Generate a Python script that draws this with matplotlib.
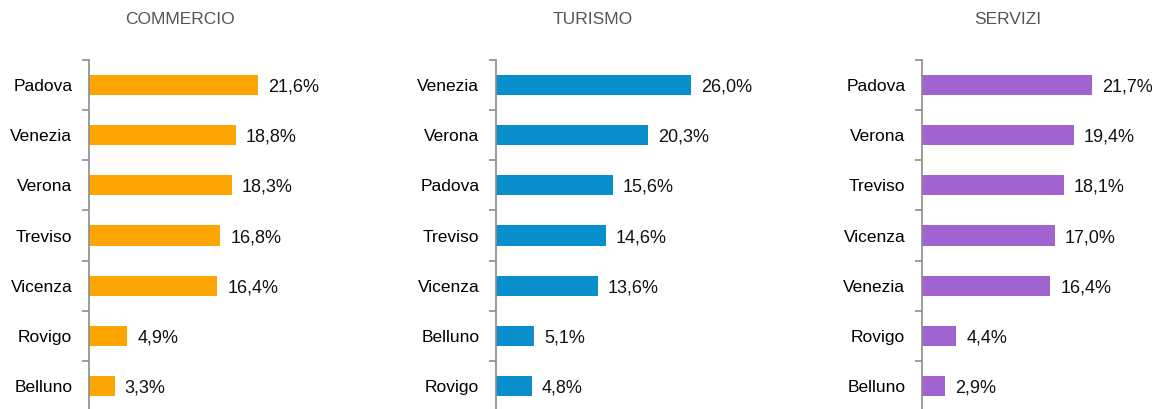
"""Quota regionale per provincia: commercio, turismo, servizi."""

import matplotlib.pyplot as plt
import numpy as np

plt.rcParams["font.family"] = ["Liberation Sans", "DejaVu Sans"]

COMMERCIO_PROV = ["Padova", "Venezia", "Verona", "Treviso", "Vicenza", "Rovigo", "Belluno"]
COMMERCIO_VAL = [21.6, 18.8, 18.3, 16.8, 16.4, 4.9, 3.3]

TURISMO_PROV = ["Venezia", "Verona", "Padova", "Treviso", "Vicenza", "Belluno", "Rovigo"]
TURISMO_VAL = [26.0, 20.3, 15.6, 14.6, 13.6, 5.1, 4.8]

SERVIZI_PROV = ["Padova", "Verona", "Treviso", "Vicenza", "Venezia", "Rovigo", "Belluno"]
SERVIZI_VAL = [21.7, 19.4, 18.1, 17.0, 16.4, 4.4, 2.9]

W, H = 1156, 409
AXIS_COLOR = "#8c8c8c"


def draw_panel(fig, left_px, ppu, title, title_x, provinces, values, color):
    width_px = 260
    ax = fig.add_axes([left_px / W, (H - 411) / H, width_px / W, 351 / H])
    y = np.arange(len(provinces))
    ax.barh(y, values, height=0.4, color=color)
    ax.set_ylim(len(provinces) - 0.5, -0.5)
    ax.set_xlim(0, width_px / ppu)

    for side in ["top", "right", "bottom"]:
        ax.spines[side].set_visible(False)
    ax.spines["left"].set_color(AXIS_COLOR)
    ax.spines["left"].set_linewidth(1.2)
    ax.set_xticks([])

    ax.set_yticks(y)
    ax.set_yticklabels(provinces, fontsize=12.5, va="center_baseline")
    ax.tick_params(axis="y", which="major", length=0, pad=12)
    ax.set_yticks(np.arange(len(provinces) + 1) - 0.5, minor=True)
    ax.tick_params(axis="y", which="minor", length=5, width=1.2, color=AXIS_COLOR)

    for yi, v in zip(y, values):
        ax.text(v + 10 / ppu, yi, f"{v:.1f}%".replace(".", ","),
                va="center_baseline", ha="left", fontsize=13, color="#111111")

    fig.text(title_x / W, (H - 20) / H, title, ha="center", va="center",
             fontsize=12.5, color="#555555")


def main():
    fig = plt.figure(figsize=(W / 100, H / 100), dpi=100)
    draw_panel(fig, 89, 7.82, "COMMERCIO", 180, COMMERCIO_PROV, COMMERCIO_VAL, "#FDA503")
    draw_panel(fig, 496, 7.5, "TURISMO", 593, TURISMO_PROV, TURISMO_VAL, "#0A8FCD")
    draw_panel(fig, 922, 7.83, "SERVIZI", 1008, SERVIZI_PROV, SERVIZI_VAL, "#A063CF")
    fig.savefig("out.png", dpi=100)
    plt.close(fig)


if __name__ == "__main__":
    main()
